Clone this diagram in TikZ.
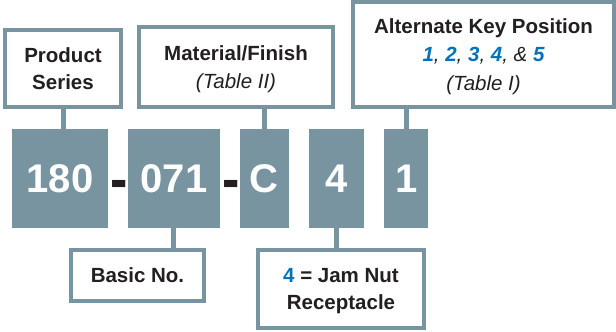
\documentclass[tikz,border=0pt]{standalone}
\usepackage{fontspec}
\setmainfont{Liberation Sans}
\definecolor{slate}{RGB}{121,148,161}
\definecolor{ink}{RGB}{35,31,32}
\definecolor{keyblue}{RGB}{0,114,188}
\newcommand{\kb}[1]{\textcolor{keyblue}{\bfseries\itshape #1}}
\begin{document}
\begin{tikzpicture}[x=1pt,y=-1pt,
  lbl/.style={draw=slate, line width=4.3pt, fill=white, inner sep=0pt, align=center, text=ink, text depth=0pt, font=\fontsize{20.5}{27.5}\selectfont\bfseries},
  blk/.style={fill=slate, inner sep=0pt, text=white, font=\fontsize{40}{40}\selectfont\bfseries, minimum height=99pt},
  stem/.style={draw=slate, line width=5pt},
  dsh/.style={text=ink, inner sep=0pt, anchor=base, font=\fontsize{52}{52}\selectfont\bfseries}]
\useasboundingbox (0,0) rectangle (616,332);
% top label boxes
\node[lbl, minimum width=115.7pt, minimum height=76.7pt] (prod) at (63,68.5) {Product\\Series};
\node[lbl, minimum width=193.7pt, minimum height=79.7pt] (mat) at (236,67) {Material/Finish\\{\mdseries\itshape (Table II)}};
\node[lbl, minimum width=260.7pt, minimum height=104.7pt, font=\fontsize{20.5}{28.5}\selectfont\bfseries] (alt) at (483.5,54.5) {Alternate Key Position\\{\mdseries\itshape \kb{1}, \kb{2}, \kb{3}, \kb{4}, \& \kb{5}}\\{\mdseries\itshape (Table I)}};
% part number blocks
\node[blk, minimum width=95.7pt] (b1) at (59.9,178.5) {180};
\node[blk, minimum width=91.3pt] (b2) at (173.9,178.5) {071};
\node[blk, minimum width=48.3pt] (b3) at (264.4,178.5) {C};
\node[blk, minimum width=55pt] (b4) at (336.5,178.5) {4};
\node[blk, minimum width=44.5pt] (b5) at (406.2,178.5) {1};
\node[dsh] (d1) at (118.7,199.6) {\scalebox{1}[1.15]{-}};
\node[dsh] (d2) at (231,199.6) {\scalebox{1}[1.15]{-}};
% bottom label boxes
\node[lbl, minimum width=132.7pt, minimum height=50.7pt] (basic) at (137.5,275.5) {Basic No.};
\node[lbl, minimum width=165.7pt, minimum height=77.7pt] (jam) at (341,289) {\textcolor{keyblue}{4} = Jam Nut\\Receptacle};
% stems
\draw[stem] (prod.south) -- (prod.south |- b1.north);
\draw[stem] (b3.north) -- (b3.north |- mat.south);
\draw[stem] (b5.north) -- (b5.north |- alt.south);
\draw[stem] (b2.south) -- (b2.south |- basic.north);
\draw[stem] (b4.south) -- (b4.south |- jam.north);
\end{tikzpicture}
\end{document}
